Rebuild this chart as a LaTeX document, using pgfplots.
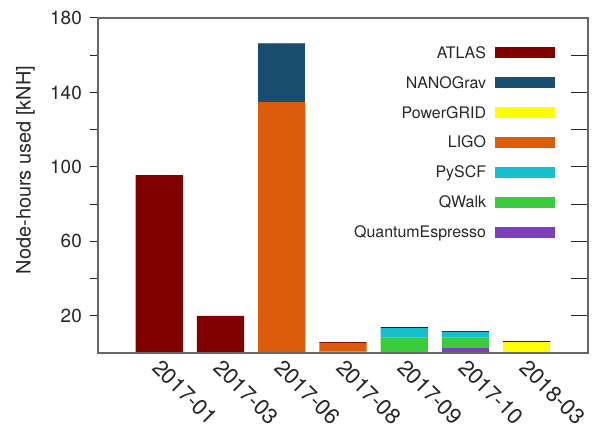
\documentclass[border=0pt]{standalone}
\usepackage{fontspec}
\setmainfont{TeX Gyre Heros}
\usepackage{pgfplots}
\usepackage{pgfplotstable}
\pgfplotsset{compat=1.18}

\definecolor{cATLAS}{RGB}{128,0,0}
\definecolor{cNANO}{RGB}{26,78,110}
\definecolor{cPG}{RGB}{255,255,0}
\definecolor{cLIGO}{RGB}{219,93,11}
\definecolor{cPySCF}{RGB}{23,190,207}
\definecolor{cQW}{RGB}{58,204,58}
\definecolor{cQE}{RGB}{126,62,190}

% node-hours per month, kNH
\pgfplotstableread{
x QE QWalk PySCF LIGO PowerGRID NANOGrav ATLAS
0 0   0   0   0     0   0    95.6
1 0   0   0   0     0   0    20.0
2 0   0   0   134.8 0   31.1 0.5
3 0   0   0.7 4.7   0   0    0.5
4 0   8.2 5.2 0     0   0    0.5
5 2.8 5.4 3.1 0     0   0    0.5
6 0   0   0   0     5.9 0    0.5
}\usage

\begin{document}
\begin{tikzpicture}
\pgfplotsset{
  base/.style={
    scale only axis, width=490bp, height=335bp,
    xmin=-1, xmax=7, ymin=0, ymax=180,
    axis line style={black!60, line width=1.2bp},
    tick style={black!85, line width=1bp},
  }
}
\begin{axis}[
  base,
  ybar stacked, bar width=0.77,
  xtick={0,...,6},
  xticklabels={2017-01,2017-03,2017-06,2017-08,2017-09,2017-10,2018-03},
  major x tick style={draw=none},
  ytick={20,60,100,140,180}, minor ytick={40,80,120,160},
  ytick pos=left, xtick pos=bottom, tick align=outside,
  major tick length=8bp, minor tick length=8bp,
  /pgf/number format/assume math mode=true,
  tick label style={font=\fontsize{19}{19}\selectfont, text=black!85},
  yticklabel style={anchor=east, inner sep=0pt, xshift=-8bp},
  xticklabel style={font=\fontsize{22}{22}\selectfont,
    xshift=3bp, yshift=3bp, rotate=-45, anchor=north west, inner sep=0pt},
  ylabel={Node-hours used [kNH]},
  ylabel style={font=\fontsize{20}{20}\selectfont, text=black!85,
    at={(axis description cs:-0.148,0.546)}, anchor=center},
  reverse legend,
  legend plot pos=right,
  legend cell align=right,
  legend style={draw=none, fill=none, inner sep=0pt, outer sep=0pt,
    at={(axis description cs:0.9327,0.9128)}, anchor=north east,
    font=\fontsize{16}{16}\selectfont, text=black!85,
    row sep=18.9bp,
    nodes={inner sep=0pt, text height=11bp, text depth=0bp},
    /tikz/every odd column/.append style={column sep=9bp}},
  legend image code/.code={\fill[#1] (0bp,-5.5bp) rectangle (60bp,5.5bp);},
]
\addplot[fill=cQE, draw=none] table[x=x, y=QE] {\usage};
\addplot[fill=cQW, draw=none] table[x=x, y=QWalk] {\usage};
\addplot[fill=cPySCF, draw=none] table[x=x, y=PySCF] {\usage};
\addplot[fill=cLIGO, draw=none] table[x=x, y=LIGO] {\usage};
\addplot[fill=cPG, draw=none] table[x=x, y=PowerGRID] {\usage};
\addplot[fill=cNANO, draw=none] table[x=x, y=NANOGrav] {\usage};
\addplot[fill=cATLAS, draw=none] table[x=x, y=ATLAS] {\usage};
\legend{QuantumEspresso,QWalk,PySCF,LIGO,PowerGRID,NANOGrav,ATLAS}
\end{axis}
\begin{axis}[
  base,
  xtick=\empty,
  ytick={20,40,...,180}, yticklabels={},
  ytick pos=right, tick align=inside, major tick length=17bp,
]
\end{axis}
\pgfresetboundingbox
\path[use as bounding box] (-98bp,-72bp) rectangle (494bp,353bp);
\end{tikzpicture}
\end{document}
